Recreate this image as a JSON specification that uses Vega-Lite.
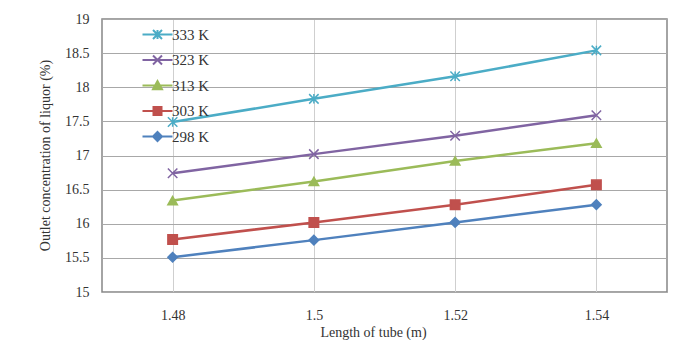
{
  "$schema": "https://vega.github.io/schema/vega-lite/v6.json",
  "width": 565,
  "height": 273,
  "autosize": {"type": "none"},
  "padding": {"left": 102, "top": 19, "right": 6, "bottom": 48},
  "background": "white",
  "config": {
    "font": "Liberation Serif",
    "view": {"stroke": "#868686", "strokeWidth": 1.5}
  },
  "resolve": {"scale": {"shape": "independent", "fill": "independent", "stroke": "independent", "color": "independent"}},
  "data": {
    "values": [
      {"length": 1.48, "series": "333 K", "conc": 17.49},
      {"length": 1.5, "series": "333 K", "conc": 17.83},
      {"length": 1.52, "series": "333 K", "conc": 18.16},
      {"length": 1.54, "series": "333 K", "conc": 18.54},
      {"length": 1.48, "series": "323 K", "conc": 16.74},
      {"length": 1.5, "series": "323 K", "conc": 17.02},
      {"length": 1.52, "series": "323 K", "conc": 17.29},
      {"length": 1.54, "series": "323 K", "conc": 17.59},
      {"length": 1.48, "series": "313 K", "conc": 16.34},
      {"length": 1.5, "series": "313 K", "conc": 16.62},
      {"length": 1.52, "series": "313 K", "conc": 16.92},
      {"length": 1.54, "series": "313 K", "conc": 17.18},
      {"length": 1.48, "series": "303 K", "conc": 15.77},
      {"length": 1.5, "series": "303 K", "conc": 16.02},
      {"length": 1.52, "series": "303 K", "conc": 16.28},
      {"length": 1.54, "series": "303 K", "conc": 16.57},
      {"length": 1.48, "series": "298 K", "conc": 15.51},
      {"length": 1.5, "series": "298 K", "conc": 15.76},
      {"length": 1.52, "series": "298 K", "conc": 16.02},
      {"length": 1.54, "series": "298 K", "conc": 16.28}
    ]
  },
  "encoding": {
    "x": {
      "field": "length",
      "type": "ordinal",
      "scale": {"type": "point", "padding": 0.5},
      "axis": {
        "title": "Length of tube (m)",
        "labelAngle": 0,
        "ticks": false,
        "domain": false,
        "grid": true,
        "gridColor": "#cfcfcf",
        "gridWidth": 1,
        "labelPadding": 16,
        "labelFontSize": 14,
        "labelColor": "#333333",
        "titleFontSize": 14,
        "titleFontWeight": "normal",
        "titleColor": "#333333",
        "titleY": 33,
        "titleX": 271,
        "titleBaseline": "top"
      }
    },
    "y": {
      "field": "conc",
      "type": "quantitative",
      "scale": {"domain": [15, 19], "nice": false, "zero": false},
      "axis": {
        "title": "Outlet concentration of liquor (%)",
        "values": [15, 15.5, 16, 16.5, 17, 17.5, 18, 18.5, 19],
        "format": "~g",
        "ticks": false,
        "domain": false,
        "grid": true,
        "gridColor": "#a8a8a8",
        "gridWidth": 1.2,
        "labelPadding": 13,
        "labelFontSize": 14,
        "labelColor": "#333333",
        "titleFontSize": 14,
        "titleFontWeight": "normal",
        "titleColor": "#333333",
        "titleX": -57,
        "titleY": 136,
        "titleBaseline": "middle"
      }
    }
  },
  "layer": [
    {
      "mark": {"type": "line", "strokeWidth": 2.5},
      "encoding": {
        "color": {
          "field": "series",
          "type": "nominal",
          "scale": {
            "domain": ["333 K", "323 K", "313 K", "303 K", "298 K"],
            "range": ["#4bacc6", "#8064a2", "#9bbb59", "#c0504d", "#4f81bd"]
          },
          "legend": null
        }
      }
    },
    {
      "mark": {"type": "point", "opacity": 1},
      "encoding": {
        "shape": {
          "field": "series",
          "type": "nominal",
          "scale": {
            "domain": ["333 K", "323 K", "313 K", "303 K", "298 K"],
            "range": ["M-1,-1L1,1M-1,1L1,-1M0,-1L0,1", "M-1,-1L1,1M-1,1L1,-1", "triangle-up", "square", "diamond"]
          },
          "legend": null
        },
        "fill": {
          "field": "series",
          "type": "nominal",
          "scale": {
            "domain": ["333 K", "323 K", "313 K", "303 K", "298 K"],
            "range": ["#4bacc6", "#8064a2", "#9bbb59", "#c0504d", "#4f81bd"]
          },
          "legend": null
        },
        "stroke": {
          "field": "series",
          "type": "nominal",
          "scale": {
            "domain": ["333 K", "323 K", "313 K", "303 K", "298 K"],
            "range": ["#4bacc6", "#8064a2", "#9bbb59", "#c0504d", "#4f81bd"]
          },
          "legend": null
        },
        "size": {"value": 90},
        "strokeWidth": {"value": 1.5}
      }
    },
    {
      "mark": {"type": "point", "opacity": 0},
      "encoding": {
        "shape": {
          "field": "series",
          "type": "nominal",
          "scale": {
            "domain": ["333 K", "323 K", "313 K", "303 K", "298 K"],
            "range": [
              "M-3,0L3,0M-0.9,-0.9L0.9,0.9M-0.9,0.9L0.9,-0.9M0,-0.9L0,0.9",
              "M-3,0L3,0M-0.9,-0.9L0.9,0.9M-0.9,0.9L0.9,-0.9",
              "M-3,0L3,0M-0.9,0.75L0,-0.9L0.9,0.75Z",
              "M-3,0L3,0M-0.8,-0.8L0.8,-0.8L0.8,0.8L-0.8,0.8Z",
              "M-3,0L3,0M0,-0.9L0.9,0L0,0.9L-0.9,0Z"
            ]
          },
          "legend": {
            "orient": "none", "legendX": 48, "legendY": 8, "title": null, "padding": 0,
            "symbolSize": 100, "symbolStrokeWidth": 2, "symbolOpacity": 1,
            "labelOffset": 7, "labelFontSize": 15, "labelColor": "#333333", "rowPadding": 8.5
          }
        },
        "fill": {
          "field": "series",
          "type": "nominal",
          "scale": {
            "domain": ["333 K", "323 K", "313 K", "303 K", "298 K"],
            "range": ["#4bacc6", "#8064a2", "#9bbb59", "#c0504d", "#4f81bd"]
          },
          "legend": {
            "orient": "none", "legendX": 48, "legendY": 8, "title": null, "padding": 0,
            "symbolSize": 100, "symbolStrokeWidth": 2, "symbolOpacity": 1,
            "labelOffset": 7, "labelFontSize": 15, "labelColor": "#333333", "rowPadding": 8.5
          }
        },
        "stroke": {
          "field": "series",
          "type": "nominal",
          "scale": {
            "domain": ["333 K", "323 K", "313 K", "303 K", "298 K"],
            "range": ["#4bacc6", "#8064a2", "#9bbb59", "#c0504d", "#4f81bd"]
          },
          "legend": {
            "orient": "none", "legendX": 48, "legendY": 8, "title": null, "padding": 0,
            "symbolSize": 100, "symbolStrokeWidth": 2, "symbolOpacity": 1,
            "labelOffset": 7, "labelFontSize": 15, "labelColor": "#333333", "rowPadding": 8.5
          }
        },
        "size": {"value": 90}
      }
    }
  ]
}
